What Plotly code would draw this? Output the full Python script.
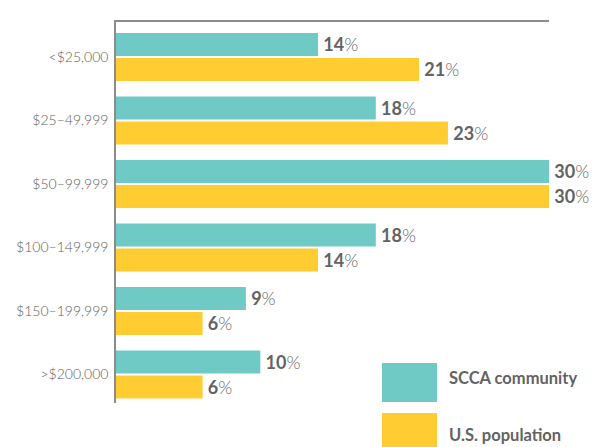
import plotly.graph_objects as go

categories = ["<$25,000", "$25–49,999", "$50–99,999", "$100–149,999", "$150–199,999", ">$200,000"]
scca = [14, 18, 30, 18, 9, 10]
us_pop = [21, 23, 30, 14, 6, 6]
series_names = ["SCCA community", "U.S. population"]
colors = ["#6FC9C4", "#FFCD32"]

TEXT_COLOR = "#636363"
W, H = 606, 447
L, R, T, B = 116, 57, 22, 44

def labels(vals):
    return [f"\u2009<b>{v}</b><span style='font-weight:300'>%</span>" for v in vals]

fig = go.Figure()
for name, vals, col in zip(series_names, [scca, us_pop], colors):
    fig.add_trace(go.Bar(
        y=list(range(len(categories))), x=vals, orientation="h", name=name,
        marker=dict(color=col, line=dict(width=0)),
        text=labels(vals), textposition="outside", cliponaxis=False,
        textfont=dict(family="Lato, Roboto, sans-serif", size=18, color=TEXT_COLOR),
        showlegend=False, hoverinfo="skip",
    ))

fig.update_layout(
    width=W, height=H,
    margin=dict(l=L, r=R, t=T, b=B, autoexpand=False),
    barmode="group", bargap=0.213, bargroupgap=0.08,
    plot_bgcolor="white", paper_bgcolor="white",
    font=dict(family="Lato, Roboto, sans-serif", color=TEXT_COLOR),
)
fig.update_xaxes(range=[0, 30], side="top", showline=True, linecolor="#8c8c8c", linewidth=1.5,
                 showticklabels=False, showgrid=False, zeroline=False, ticks="", automargin=False)
fig.update_yaxes(range=[5.449, -0.551], tickmode="array", tickvals=list(range(len(categories))),
                 ticktext=categories, showline=True, linecolor="#8c8c8c", linewidth=1.5,
                 showgrid=False, zeroline=False, ticks="", ticklabelstandoff=3, automargin=False,
                 tickfont=dict(family="Lato, Roboto, sans-serif", size=14, color="#5e5e5e", weight=300))

# Custom legend (large swatches)
pw, ph = W - L - R, H - T - B
def px_x(x): return (x - L) / pw
def px_y(y): return (H - B - y) / ph
legend_rows = [(363, 402, 378), (413, 452, 435)]
for (y0, y1, ty), name, col in zip(legend_rows, series_names, colors):
    fig.add_shape(type="rect", xref="paper", yref="paper",
                  x0=px_x(382), x1=px_x(437), y0=px_y(y1), y1=px_y(y0),
                  fillcolor=col, line=dict(width=0), layer="above")
    fig.add_annotation(xref="paper", yref="paper", x=px_x(447), y=px_y(ty),
                       text=f"<b>{name}</b>", showarrow=False, xanchor="left", yanchor="middle",
                       font=dict(family="Lato, Roboto, sans-serif", size=16.5, color=TEXT_COLOR))

fig.write_html("out.html", config={"displayModeBar": False},
               post_script="document.body.style.margin='0';")
